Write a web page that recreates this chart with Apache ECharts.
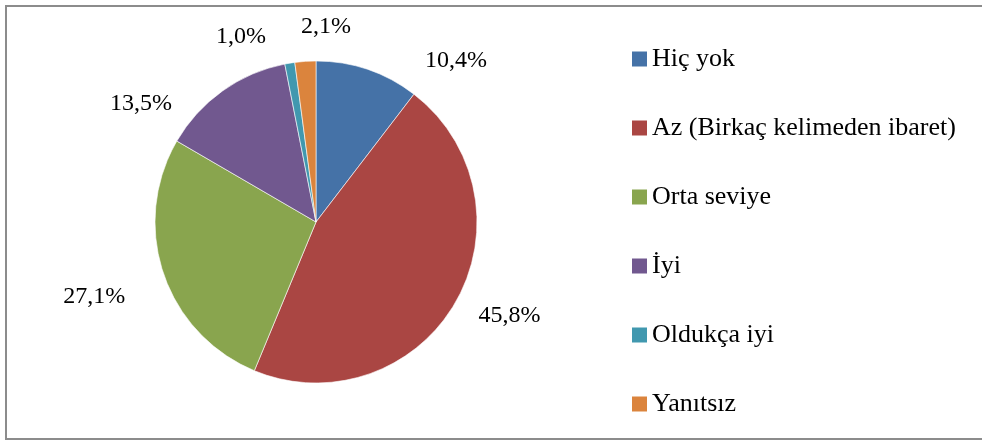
<!DOCTYPE html>
<html>
<head>
<meta charset="utf-8">
<script src="https://cdn.jsdelivr.net/npm/echarts@6/dist/echarts.min.js"></script>
<style>
  html, body { margin: 0; padding: 0; background: #fff; }
  #chart { width: 982px; height: 440px; }
</style>
</head>
<body>
<div id="chart"></div>
<script>
// kategoriler ve yüzdeler
const categories = ['Hiç yok', 'Az (Birkaç kelimeden ibaret)', 'Orta seviye', 'İyi', 'Oldukça iyi', 'Yanıtsız']
const values = [10.4, 45.8, 27.1, 13.5, 1.0, 2.1]
const colors = ['#4572A7', '#AA4643', '#89A54E', '#71588F', '#4198AF', '#DB843D']

// pasta merkezi / yarıçapı
const cx = 316, cy = 222, R = 161
// etiket yerleşimi: [açı (üstten saat yönü), merkezden uzaklık]
const labelPolar = [[40.9, 214], [115.9, 215], [251.3, 234], [304, 211], [338, 200], [2.9, 196]]

const font = "'Liberation Serif', 'Times New Roman', serif"

var myChart = echarts.init(document.getElementById('chart'))
myChart.setOption({
  animation: false,
  color: colors,
  textStyle: { fontFamily: font },
  graphic: [{
    type: 'rect',
    shape: { x: 6, y: 6, width: 1200, height: 433 },
    style: { fill: 'none', stroke: '#8c8c8c', lineWidth: 2 },
    silent: true
  }],
  legend: {
    orient: 'vertical',
    left: 632,
    top: 46,
    padding: 0,
    icon: 'rect',
    itemWidth: 15,
    itemHeight: 15,
    itemGap: 43,
    itemStyle: { borderWidth: 0 },
    textStyle: { fontFamily: font, fontSize: 26, lineHeight: 26, color: '#000' },
    data: categories
  },
  series: [{
    type: 'pie',
    center: [cx, cy],
    radius: R,
    startAngle: 90,
    clockwise: true,
    itemStyle: { borderColor: '#fff', borderWidth: 0.6 },
    label: {
      show: true,
      position: 'outside',
      fontFamily: font,
      fontSize: 24,
      color: '#000',
      formatter: p => p.value.toFixed(1).replace('.', ',') + '%'
    },
    labelLine: { show: false },
    labelLayout: function (params) {
      const lp = labelPolar[params.dataIndex]
      const a = lp[0] * Math.PI / 180
      return {
        x: cx + Math.sin(a) * lp[1],
        y: cy - Math.cos(a) * lp[1],
        align: 'center',
        verticalAlign: 'middle'
      }
    },
    data: categories.map((c, i) => ({ name: c, value: values[i] }))
  }]
})
</script>
</body>
</html>
